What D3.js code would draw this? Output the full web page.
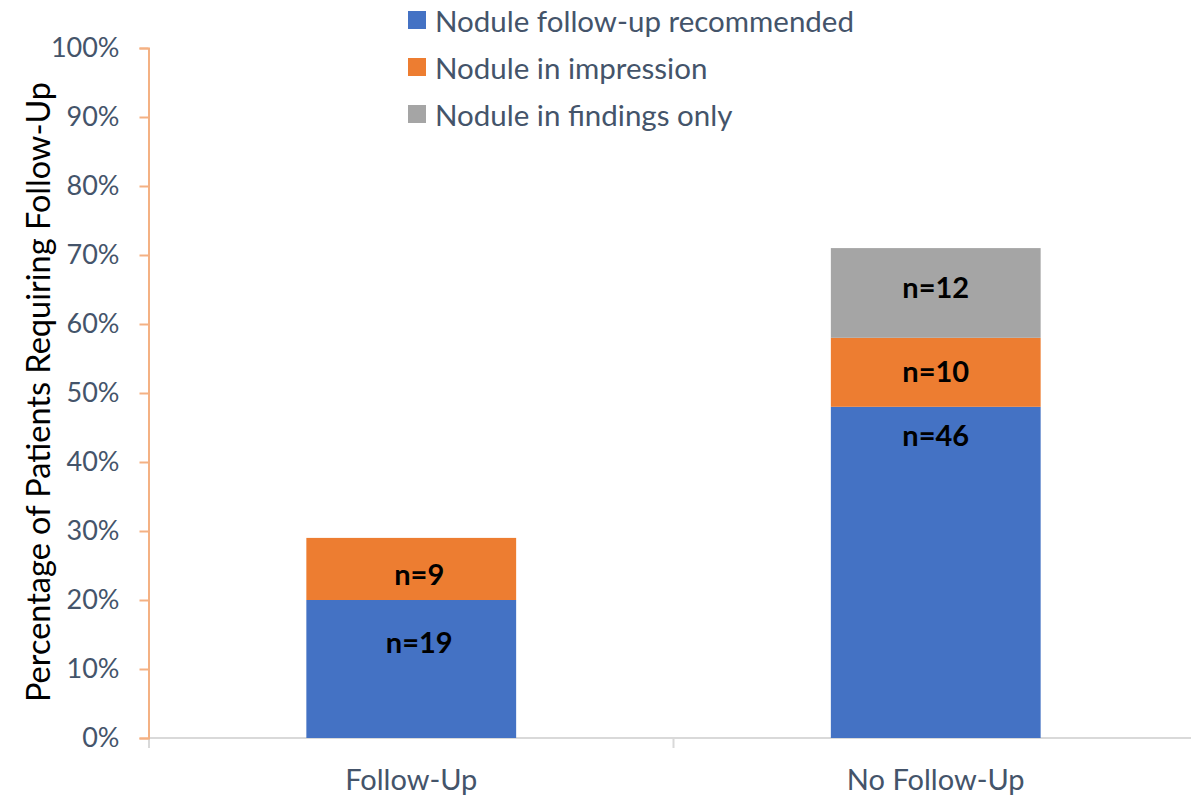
<!DOCTYPE html>
<html>
<head>
<meta charset="utf-8">
<script src="https://cdn.jsdelivr.net/npm/d3@7"></script>
<style>
  body { margin: 0; background: #fff; }
  svg { font-family: Lato, "Open Sans", sans-serif; }
</style>
</head>
<body>
<svg width="1191" height="795"></svg>
<script>
// chart data
var categories = ['Follow-Up', 'No Follow-Up'];
var seriesNames = ['Nodule follow-up recommended', 'Nodule in impression', 'Nodule in findings only'];
var recommended = [20, 48];
var impression = [9, 10];
var findingsOnly = [0, 13];
// n labels for each segment and the value where each label sits
var recommendedN = ['n=19', 'n=46'];
var impressionN = ['n=9', 'n=10'];
var findingsN = ['', 'n=12'];
var recommendedLabelAt = [14, 44];
var impressionLabelAt = [23.8, 53.3];
var findingsLabelAt = [0, 65.4];
var yTicks = [0, 10, 20, 30, 40, 50, 60, 70, 80, 90, 100];

var colors = ['#4472c4', '#ed7d31', '#a5a5a5'];
var textColor = '#44546a';

var svg = d3.select('svg');

// build rows for the stack
var rows = categories.map(function (c, i) {
    return {
        category: c,
        s0: recommended[i], s1: impression[i], s2: findingsOnly[i],
        n0: recommendedN[i], n1: impressionN[i], n2: findingsN[i],
        l0: recommendedLabelAt[i], l1: impressionLabelAt[i], l2: findingsLabelAt[i]
    };
});

var stack = d3.stack().keys(['s0', 's1', 's2']);
var layers = stack(rows);

var xScale = d3.scaleBand()
    .domain(categories)
    .range([149, 1198])
    .paddingInner(0.6)
    .paddingOuter(0.3);

var yScale = d3.scaleLinear()
    .domain([0, 100])
    .range([738, 48]);

// x axis line and tick marks at band edges
var step = xScale.step();
var x0 = 149;
svg.append('line')
    .attr('x1', x0).attr('x2', 1191)
    .attr('y1', yScale(0)).attr('y2', yScale(0))
    .attr('stroke', '#d9d9d9').attr('stroke-width', 2);

svg.selectAll('.x-tick')
    .data(d3.range(categories.length + 1))
    .enter().append('line')
    .attr('class', 'x-tick')
    .attr('x1', function (d) { return x0 + d * step; })
    .attr('x2', function (d) { return x0 + d * step; })
    .attr('y1', yScale(0)).attr('y2', yScale(0) + 10)
    .attr('stroke', '#d9d9d9').attr('stroke-width', 2);

// bars
var layerG = svg.selectAll('.layer')
    .data(layers)
    .enter().append('g')
    .attr('class', 'layer')
    .attr('fill', function (d, i) { return colors[i]; });

layerG.selectAll('rect')
    .data(function (d) { return d; })
    .enter().append('rect')
    .attr('x', function (d) { return xScale(d.data.category); })
    .attr('width', xScale.bandwidth())
    .attr('y', function (d) { return yScale(d[1]); })
    .attr('height', function (d) { return yScale(d[0]) - yScale(d[1]); });

// segment labels
layers.forEach(function (layer, i) {
    svg.selectAll('.lab' + i)
        .data(layer.filter(function (d) { return d.data['n' + i] !== ''; }))
        .enter().append('text')
        .attr('class', 'lab' + i)
        .attr('x', function (d) { return xScale(d.data.category) + xScale.bandwidth() / 2 + (d.data.category === 'Follow-Up' ? 8 : 0); })
        .attr('y', function (d) { return yScale(d.data['l' + i]); })
        .attr('text-anchor', 'middle')
        .attr('dominant-baseline', 'central')
        .style('font-size', '29px')
        .style('font-weight', 'bold')
        .attr('fill', '#000')
        .text(function (d) { return d.data['n' + i]; });
});

// y axis
var yAxisG = svg.append('g')
    .attr('transform', 'translate(148.5,0)')
    .call(d3.axisLeft(yScale)
        .tickValues(yTicks)
        .tickSize(9)
        .tickPadding(20)
        .tickFormat(function (d) { return d + '%'; }));

yAxisG.select('.domain').attr('stroke', '#f4b183').attr('stroke-width', 2);
yAxisG.selectAll('.tick line').attr('stroke', '#f4b183').attr('stroke-width', 2);
yAxisG.selectAll('.tick text')
    .attr('fill', textColor)
    .style('font-size', '27px')
    .style('font-family', 'Lato, sans-serif');

// category labels
svg.selectAll('.cat-label')
    .data(categories)
    .enter().append('text')
    .attr('class', 'cat-label')
    .attr('x', function (d) { return xScale(d) + xScale.bandwidth() / 2; })
    .attr('y', 778)
    .attr('text-anchor', 'middle')
    .attr('dominant-baseline', 'central')
    .attr('fill', textColor)
    .style('font-size', '29px')
    .text(function (d) { return d; });

// y axis title
svg.append('text')
    .attr('transform', 'translate(37,392) rotate(-90)')
    .attr('text-anchor', 'middle')
    .attr('dominant-baseline', 'central')
    .attr('fill', '#000')
    .style('font-size', '32.5px')
    .text('Percentage of Patients Requiring Follow-Up');

// legend
var legend = svg.selectAll('.legend')
    .data(seriesNames)
    .enter().append('g')
    .attr('class', 'legend')
    .attr('transform', function (d, i) { return 'translate(408,' + (20 + i * 47) + ')'; });

legend.append('rect')
    .attr('x', 0).attr('y', -9)
    .attr('width', 18).attr('height', 18)
    .attr('fill', function (d, i) { return colors[i]; });

legend.append('text')
    .attr('x', 27)
    .attr('y', 0)
    .attr('dominant-baseline', 'central')
    .attr('fill', textColor)
    .style('font-size', '29.5px')
    .text(function (d) { return d; });
</script>
</body>
</html>
